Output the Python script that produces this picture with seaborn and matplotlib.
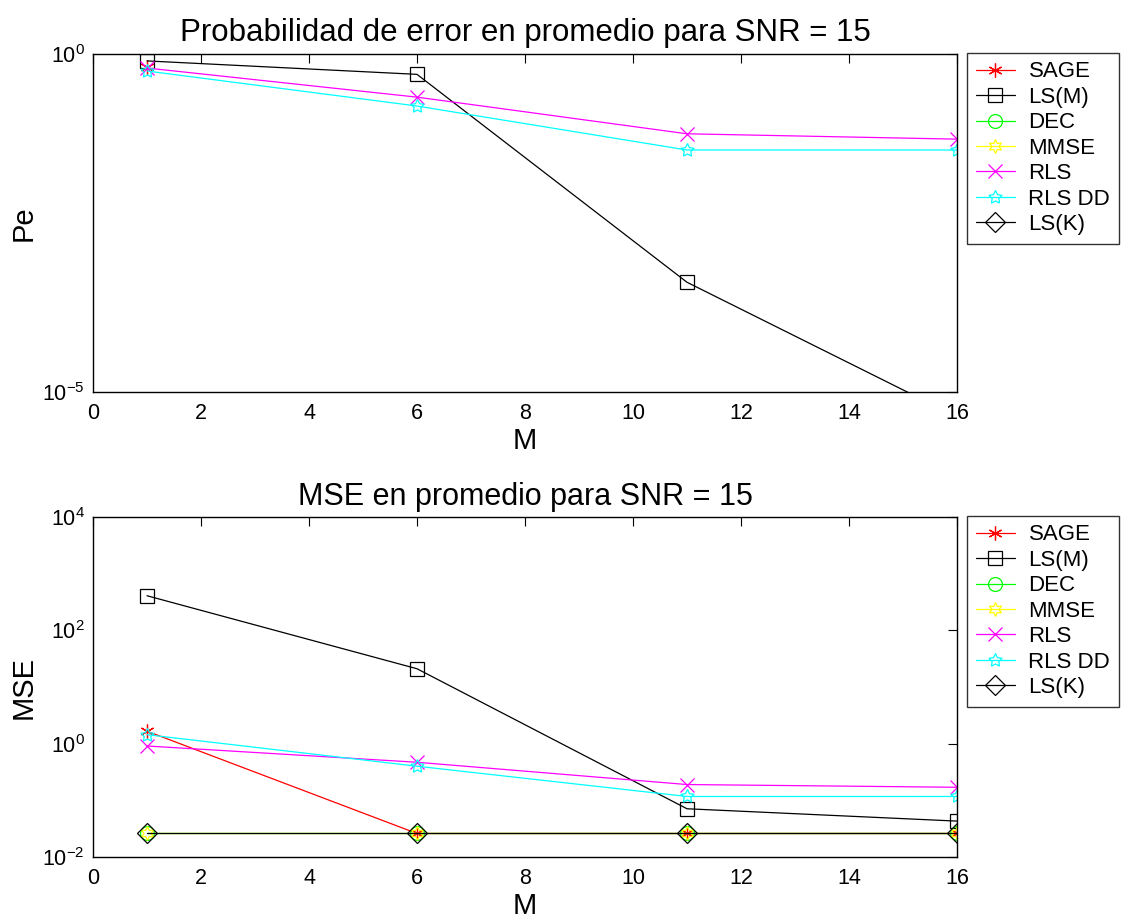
import numpy as np
import matplotlib
matplotlib.use("Agg")
import matplotlib.pyplot as plt
from matplotlib.lines import Line2D
from matplotlib.ticker import FixedLocator, NullLocator, LogFormatterMathtext
import seaborn as sns

sns.set_style("white")
plt.rcParams["font.family"] = ["Liberation Sans", "DejaVu Sans"]
plt.rcParams["mathtext.fontset"] = "custom"
plt.rcParams["mathtext.rm"] = "Liberation Sans"
plt.rcParams["mathtext.it"] = "Liberation Sans:italic"
plt.rcParams["mathtext.default"] = "regular"
for key in ["text.color", "axes.labelcolor", "xtick.color", "ytick.color"]:
    plt.rcParams[key] = "black"

# Filter length
M = [1, 6, 11, 16]

series_names = ["SAGE", "LS(M)", "DEC", "MMSE", "RLS", "RLS DD", "LS(K)"]

# Average error probability (0 = no errors observed)
pe_sage = [0.65, 0, 0, 0]
pe_lsm = [0.79, 0.50, 4.2e-4, 4.3e-6]
pe_dec = [0, 0, 0, 0]
pe_mmse = [0, 0, 0, 0]
pe_rls = [0.62, 0.23, 0.066, 0.055]
pe_rlsdd = [0.56, 0.17, 0.038, 0.038]
pe_lsk = [0, 0, 0, 0]

# Average mean squared error
mse_sage = [1.66, 0.026, 0.026, 0.026]
mse_lsm = [408, 21, 0.071, 0.043]
mse_dec = [0.027, 0.027, 0.027, 0.027]
mse_mmse = [0.026, 0.026, 0.026, 0.026]
mse_rls = [0.91, 0.47, 0.19, 0.17]
mse_rlsdd = [1.44, 0.40, 0.117, 0.117]
mse_lsk = [0.026, 0.026, 0.026, 0.026]

styles = {
    "SAGE": dict(color="#ff0000", marker=(6, 2, 0)),
    "LS(M)": dict(color="#000000", marker="s"),
    "DEC": dict(color="#00ff00", marker="o"),
    "MMSE": dict(color="#ffff00", marker=(6, 1, 0)),
    "RLS": dict(color="#ff00ff", marker="x"),
    "RLS DD": dict(color="#00ffff", marker=(5, 1, 0)),
    "LS(K)": dict(color="#000000", marker="D"),
}

W, H = 1126, 923
fig = plt.figure(figsize=(W / 100, H / 100), dpi=100)


def px_axes(left, top, right, bottom):
    return fig.add_axes([left / W, 1 - bottom / H, (right - left) / W, (bottom - top) / H])


ax1 = px_axes(93, 54, 957, 392)
ax2 = px_axes(93, 517, 957, 857)

LW = 0.9
MS = 10


def draw(ax, values):
    for name, vals in zip(series_names, values):
        y = np.asarray(vals, dtype=float)
        y = np.where(y > 0, y, np.nan)
        st = styles[name]
        if np.all(np.isnan(y)):
            continue
        sns.lineplot(x=M, y=y, ax=ax, color=st["color"], marker=st["marker"],
                     markersize=MS, markerfacecolor="none",
                     markeredgecolor=st["color"], markeredgewidth=LW,
                     linewidth=LW, legend=False, errorbar=None)


def legend(ax):
    handles = [Line2D([0], [0], color=styles[n]["color"], marker=styles[n]["marker"],
                      markersize=MS, markerfacecolor="none", markeredgewidth=LW,
                      linewidth=LW) for n in series_names]
    leg = ax.legend(handles, series_names, loc="upper left",
                    bbox_to_anchor=(1.012, 1.003), fontsize=16, frameon=True,
                    fancybox=False, edgecolor="black", handlelength=1.75,
                    handletextpad=0.62, labelspacing=0.2, borderpad=0.38,
                    borderaxespad=0)
    leg.get_frame().set_linewidth(1.0)


def style_axes(ax, ylim, yticks):
    ax.set_yscale("log")
    ax.set_xlim(0, 16)
    ax.set_ylim(*ylim)
    ax.xaxis.set_major_locator(FixedLocator(list(range(0, 17, 2))))
    ax.yaxis.set_major_locator(FixedLocator(yticks))
    ax.yaxis.set_minor_locator(NullLocator())
    ax.yaxis.set_major_formatter(LogFormatterMathtext())
    ax.tick_params(direction="in", length=6.5, width=0.8, top=True, right=True,
                   labelsize=15.5, colors="black")
    ax.tick_params(axis="x", pad=8)
    ax.tick_params(axis="y", pad=6)
    for sp in ax.spines.values():
        sp.set_visible(True)
        sp.set_color("black")
        sp.set_linewidth(1.0)
    ax.set_facecolor("white")


draw(ax1, [pe_sage, pe_lsm, pe_dec, pe_mmse, pe_rls, pe_rlsdd, pe_lsk])
style_axes(ax1, (1e-5, 1e0), [1e-5, 1e0])
ax1.set_title("Probabilidad de error en promedio para SNR = 15", fontsize=22.5, pad=9)
ax1.set_xlabel("M", fontsize=21, labelpad=2)
ax1.set_ylabel("Pe", fontsize=21, labelpad=3)
legend(ax1)

draw(ax2, [mse_sage, mse_lsm, mse_dec, mse_mmse, mse_rls, mse_rlsdd, mse_lsk])
style_axes(ax2, (1e-2, 1e4), [1e-2, 1e0, 1e2, 1e4])
ax2.set_title("MSE en promedio para SNR = 15", fontsize=22, pad=9)
ax2.set_xlabel("M", fontsize=21, labelpad=2)
ax2.set_ylabel("MSE", fontsize=21, labelpad=3)
legend(ax2)

fig.savefig("out.png", dpi=100, facecolor="white")
